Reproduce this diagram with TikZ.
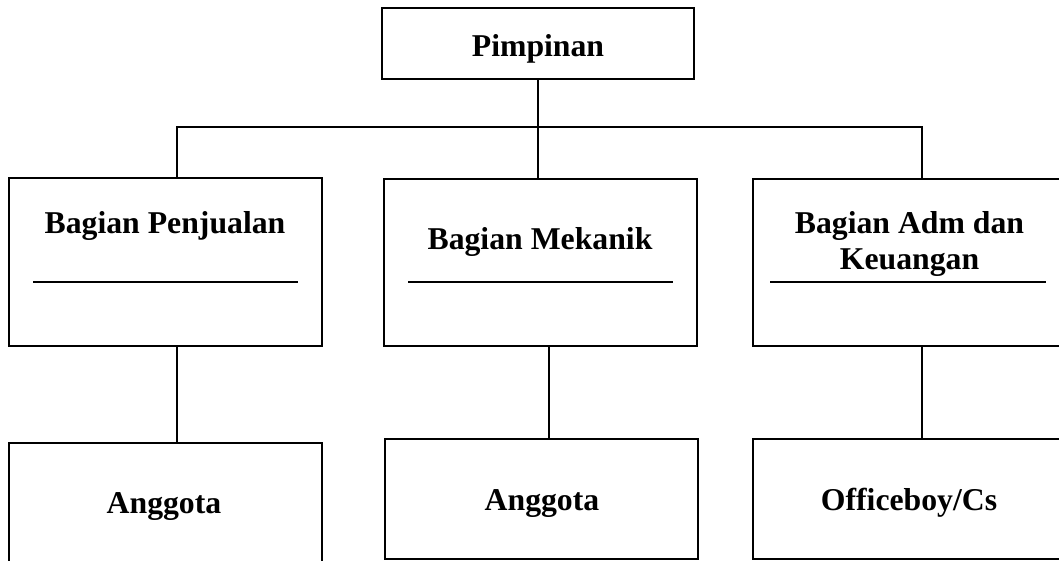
\documentclass[tikz,border=0pt]{standalone}
\usepackage{fontspec}
\setmainfont{Liberation Serif}
\tikzset{
  unit/.style={draw, line width=1.4pt, inner sep=0pt, minimum width=234.75pt},
  lbl/.style={font=\fontsize{23.8}{26.5}\selectfont\bfseries, align=center, inner sep=0pt},
  wire/.style={line width=1.4pt}
}

\begin{document}
\begin{tikzpicture}[x=0.75pt,y=-0.75pt]
\useasboundingbox (0,0) rectangle (1059,560);
\node[unit, minimum width=234pt, minimum height=53.25pt] (pim) at (538,43.5) {};
\node[unit, minimum height=126pt] (jual) at (165.5,262) {};
\node[unit, minimum height=125.25pt] (mek) at (540.5,262.5) {};
\node[unit, minimum width=247.5pt, minimum height=125.25pt] (adm) at (918,262.5) {};
\node[unit, minimum height=90pt] (ag1) at (165.5,503) {};
\node[unit, minimum height=90pt] (ag2) at (541.5,499) {};
\node[unit, minimum width=247.5pt, minimum height=90pt] (ob) at (918,499) {};
\node[lbl, anchor=base] (tpim) at (538,57) {Pimpinan};
\node[lbl, anchor=base] (tjual) at (165,233) {Bagian Penjualan};
\node[lbl, anchor=base] (tmek) at (540,249) {Bagian Mekanik};
\node[lbl, anchor=base] (tadm) at (909.5,269) {Bagian Adm dan\\Keuangan};
\node[lbl, anchor=base] (tag1) at (164,513) {Anggota};
\node[lbl, anchor=base] (tag2) at (542,510) {Anggota};
\node[lbl, anchor=base] (tob) at (909,510) {Officeboy/Cs};
\coordinate (busL) at (177,127);
\coordinate (busR) at (922,127);
\coordinate (midL) at (549,0);
\draw[wire] (busL |- jual.north) -- (busL) -- (busR) -- (busR |- adm.north);
\draw[wire] (pim.south) -- (pim.south |- mek.north);
\draw[wire] (busL |- jual.south) -- (busL |- ag1.north);
\draw[wire] (midL |- mek.south) -- (midL |- ag2.north);
\draw[wire] (busR |- adm.south) -- (busR |- ob.north);
\draw[wire] (33,282) -- (298,282);
\draw[wire] (408,282) -- (673,282);
\draw[wire] (770,282) -- (1046,282);
\end{tikzpicture}
\end{document}
